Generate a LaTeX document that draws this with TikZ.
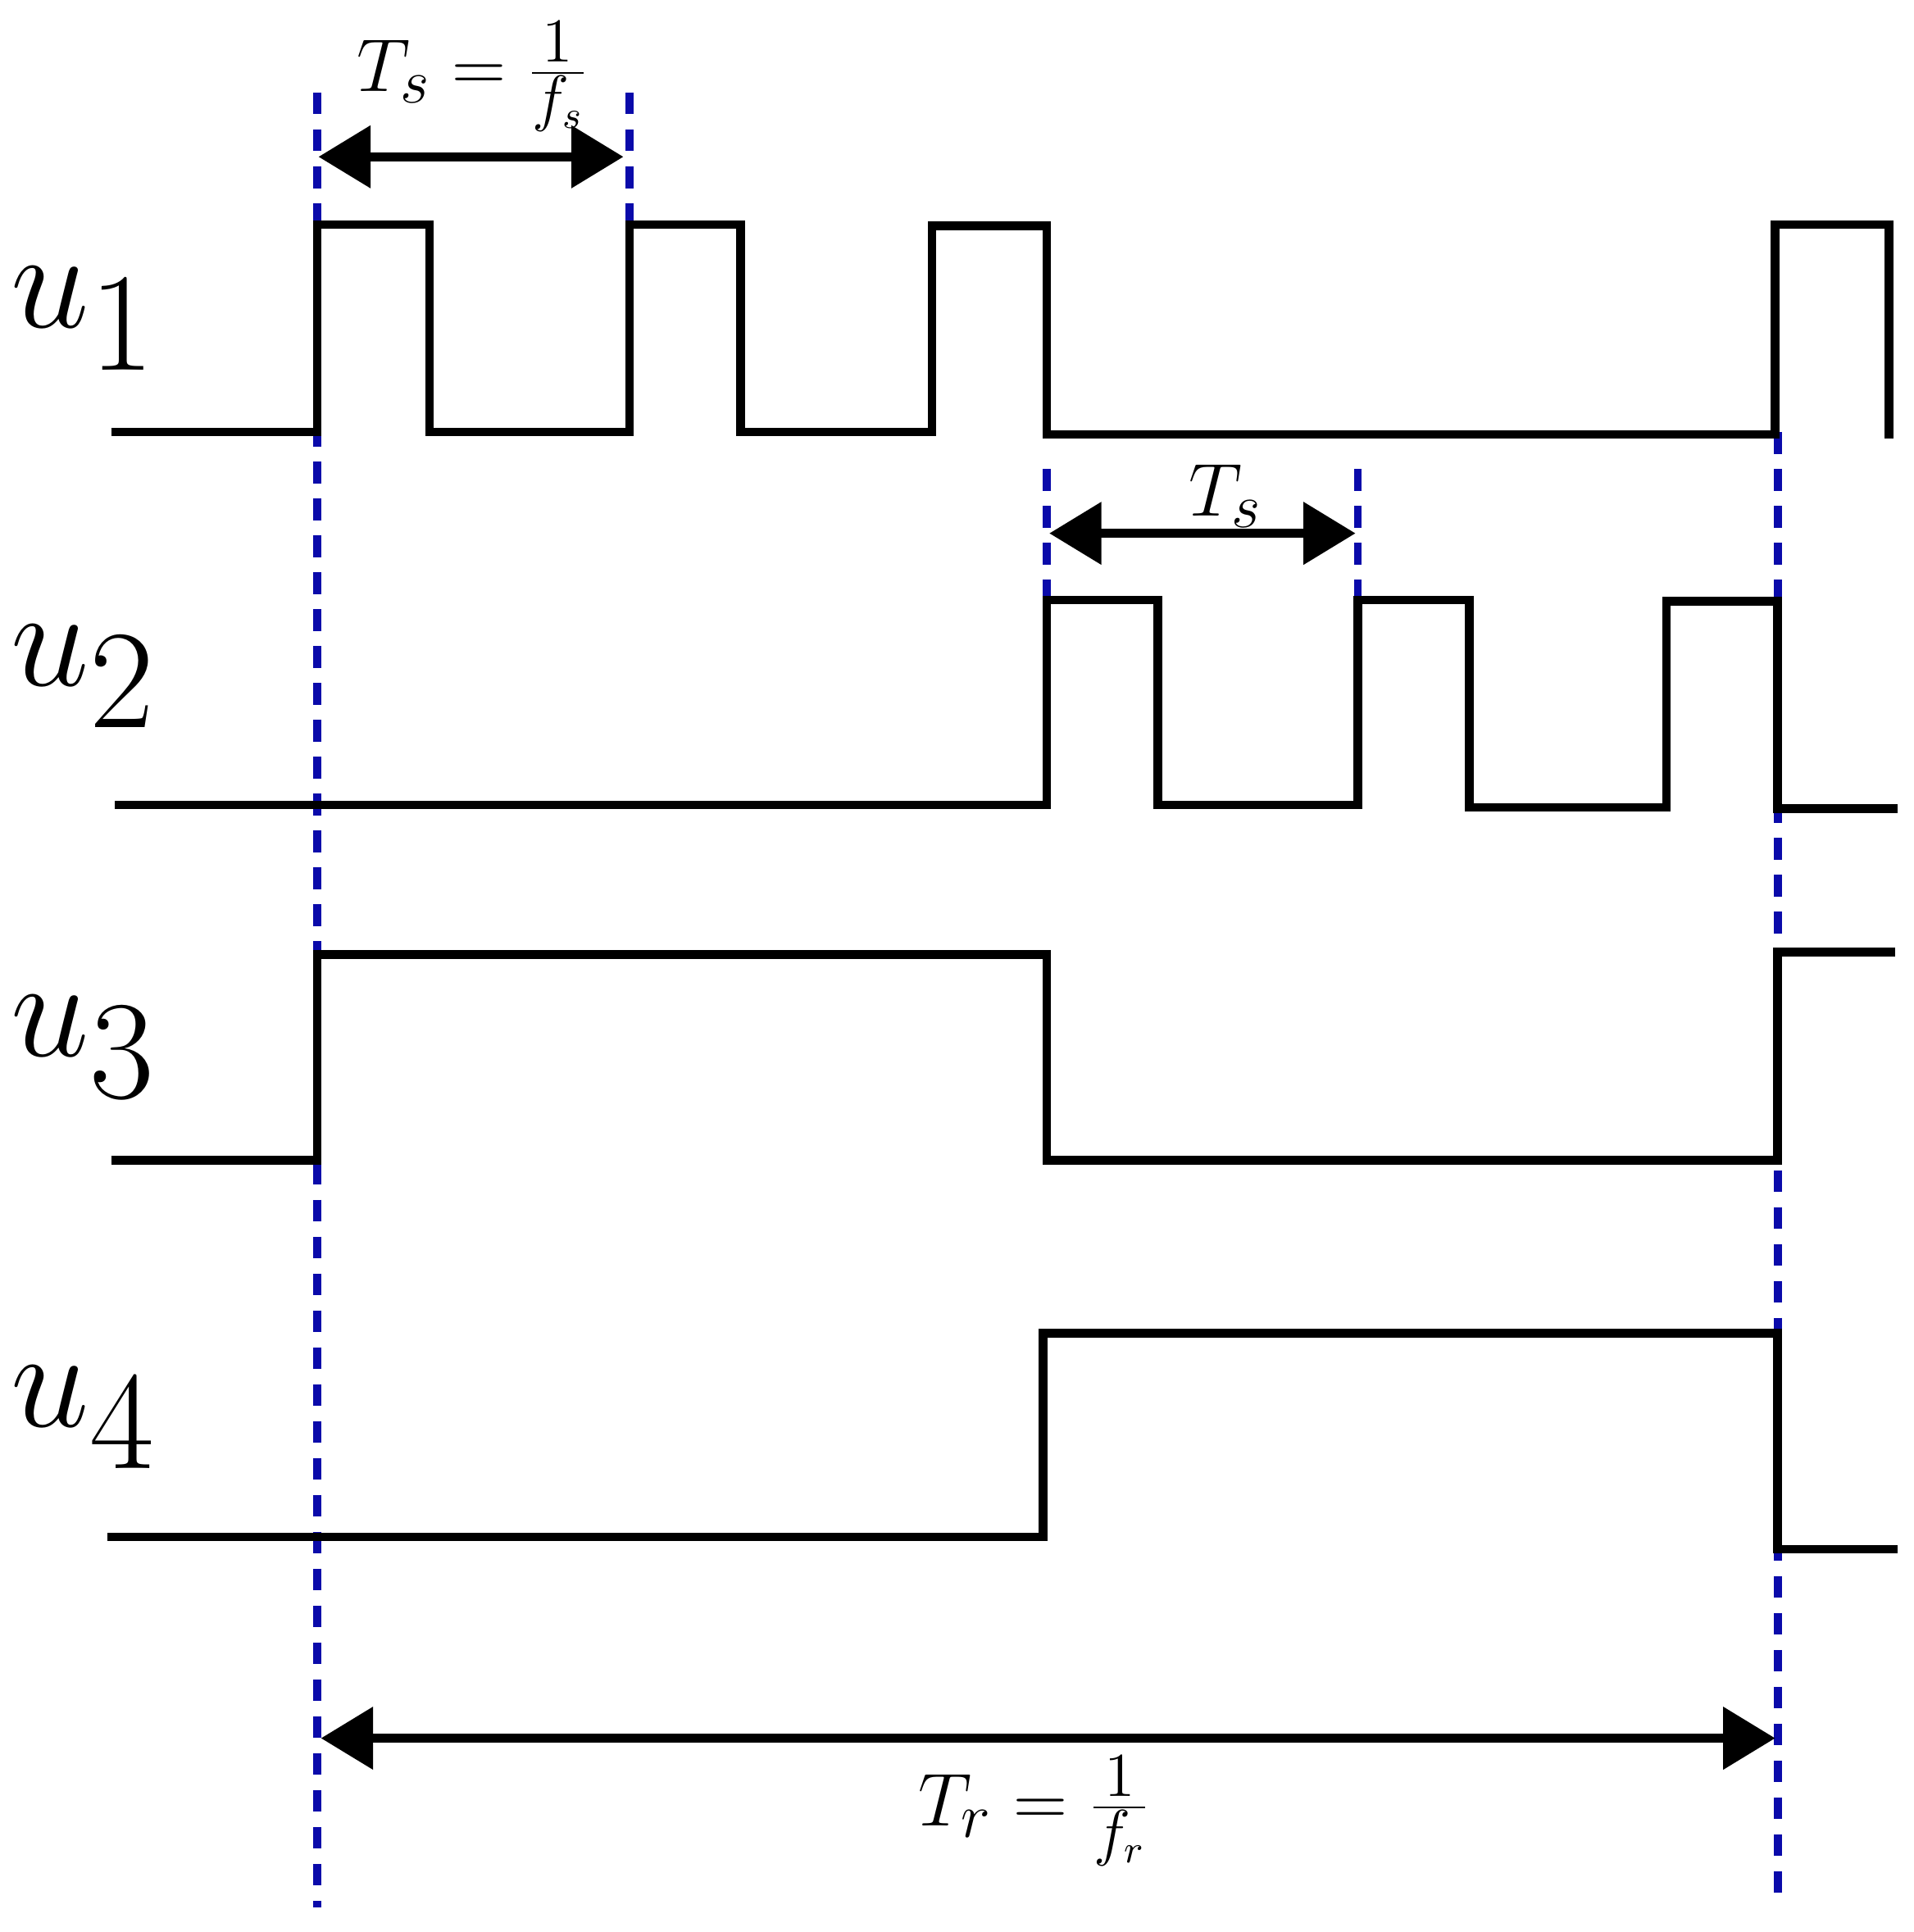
\documentclass[tikz,border=0pt]{standalone}
\usetikzlibrary{arrows.meta}
\definecolor{dblue}{RGB}{10,10,170}
\begin{document}
\begin{tikzpicture}[x=0.01cm,y=-0.01cm,
  sig/.style={line width=2pt,line join=miter},
  vline/.style={dblue,line width=1.8pt,dash pattern=on 5pt off 3.5pt},
  dim/.style={line width=2pt,{Triangle[length=12pt,width=14pt]}-{Triangle[length=12pt,width=14pt]}},
  ulab/.style={font=\fontsize{40}{48}\selectfont},
  tlab/.style={font=\fontsize{19}{23}\selectfont}]
\useasboundingbox (0,0) rectangle (1550,1565);
% dashed verticals
\draw[vline] (257,75) -- (257,1545);
\draw[vline] (510,75) -- (510,180);
\draw[vline] (848,380) -- (848,485);
\draw[vline] (1100,380) -- (1100,485);
\draw[vline] (1440,350) -- (1440,1540);
% signals
\draw[sig] (90,350) -- (257,350) -- (257,182) -- (348,182) -- (348,350) -- (510,350) -- (510,182) -- (600,182) -- (600,350) -- (755,350) -- (755,183) -- (848,183) -- (848,352) -- (1438,352) -- (1438,182) -- (1530,182) -- (1530,355);
\draw[sig] (93,652) -- (848,652) -- (848,486) -- (938,486) -- (938,652) -- (1100,652) -- (1100,486) -- (1190,486) -- (1190,654) -- (1350,654) -- (1350,487) -- (1440,487) -- (1440,655) -- (1537,655);
\draw[sig] (90,940) -- (257,940) -- (257,773) -- (848,773) -- (848,940) -- (1440,940) -- (1440,771) -- (1535,771);
\draw[sig] (87,1245) -- (845,1245) -- (845,1080) -- (1440,1080) -- (1440,1255) -- (1537,1255);
% dimension arrows
\coordinate (a1) at (258,127); \coordinate (b1) at (505,127);
\coordinate (a2) at (850,432); \coordinate (b2) at (1098,432);
\coordinate (a3) at (260,1408); \coordinate (b3) at (1438,1408);
\draw[dim] (a1) -- (b1);
\draw[dim] (a2) -- (b2);
\draw[dim] (a3) -- (b3);
% labels
\node[tlab] (ts1) at (383,62) {$T_s=\frac{1}{f_s}$};
\node[tlab] (ts2) at (993,402) {$T_s$};
\node[tlab] (tr) at (838,1467) {$T_r=\frac{1}{f_r}$};
\node[ulab] (u1) at (68,258) {\scalebox{1.3}{$u_1$}};
\node[ulab] (u2) at (68,548) {\scalebox{1.3}{$u_2$}};
\node[ulab] (u3) at (68,848) {\scalebox{1.3}{$u_3$}};
\node[ulab] (u4) at (68,1148) {\scalebox{1.3}{$u_4$}};
\end{tikzpicture}
\end{document}
